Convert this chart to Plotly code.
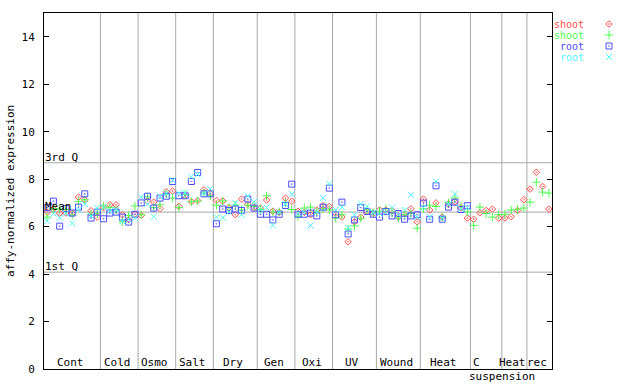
import plotly.graph_objects as go

groups = ["Cont", "Cold", "Osmo", "Salt", "Dry", "Gen", "Oxi", "UV", "Wound", "Heat", "C", "Heat", "rec"]
group_sizes = [9, 6, 6, 6, 7, 6, 6, 7, 7, 8, 5, 4, 4]

shoot_1 = [6.61, 6.75, 6.57, 6.57, 6.55, 7.24, 7.13, 6.67, 6.40,
           6.80, 6.92, 6.92, 6.50, 6.30, 6.52,
           6.47, 7.08, 7.03, 6.76, 7.47, 7.50,
           6.85, 7.30, 7.05, 7.10, 7.55, 7.40,
           7.10, 7.08, 6.80, 6.50, 7.16, 6.95, 6.80,
           6.78, 7.12, 6.65, 6.60, 7.20, 7.07,
           6.65, 6.60, 6.50, 6.70, 6.88, 6.85,
           6.55, 6.40, 5.36, 6.20, 6.40, 6.64, 6.55,
           6.70, 6.70, 6.68, 6.40, 6.55, 6.75, 6.20,
           7.16, 6.70, 7.00, 6.40, 6.95, 7.05, 6.80, 6.36,
           6.31, 6.58, 6.68, 6.74, 6.36,
           6.36, 6.42, 6.68, 7.13,
           7.58, 8.29, 7.69, 6.74]
shoot_2 = [6.40, 6.75, 6.75, 6.72, 6.48, 7.05, 7.13, 6.52, 6.55,
           6.87, 6.80, 6.70, 6.20, 6.47, 6.87,
           6.50, 7.25, 6.80, 6.92, 7.38, 7.20,
           6.80, 7.35, 7.05, 7.08, 7.42, 7.30,
           6.90, 7.08, 6.80, 6.90, 6.70, 6.90, 6.85,
           6.72, 7.30, 6.62, 6.62, 7.00, 6.72,
           6.43, 6.78, 6.82, 6.62, 6.75, 6.70,
           6.36, 6.50, 5.90, 6.03, 6.35, 6.70, 6.58,
           6.65, 6.75, 6.60, 6.36, 6.50, 6.55, 5.93,
           6.75, 6.90, 6.85, 6.40, 7.00, 7.20, 6.85, 6.62,
           6.05, 6.82, 6.55, 6.40, 6.50,
           6.52, 6.70, 6.73, 6.78,
           7.03, 7.87, 7.45, 7.41]
root_1 = [6.80, 7.07, 6.02, 6.76, 6.57, 6.82, 7.38, 6.36, 6.61,
          6.33, 6.57, 6.61, 6.40, 6.19, 6.52,
          7.00, 7.28, 6.78, 7.20, 7.28, 7.90,
          7.30, 7.30, 7.90, 8.28, 7.38, 7.38,
          6.12, 6.74, 6.68, 6.74, 6.68, 7.16, 6.78,
          6.52, 6.52, 6.28, 6.52, 6.89, 7.79,
          6.52, 6.52, 6.57, 6.45, 6.82, 7.62,
          6.50, 7.03, 5.69, 6.28, 6.80, 6.64, 6.52,
          6.40, 6.64, 6.45, 6.55, 6.31, 6.45, 6.50,
          6.99, 6.31, 7.72, 6.31, 6.82, 7.03, 6.72, 6.88]
root_2 = [6.24, 6.55, 6.38, 6.55, 6.14, 6.70, 6.95, 6.45, 6.78,
          6.82, 6.65, 6.72, 6.22, 6.30, 6.35,
          7.25, 6.95, 6.42, 7.28, 7.40, 7.95,
          7.40, 7.42, 8.10, 8.20, 7.40, 7.58,
          6.40, 6.37, 6.62, 7.00, 6.50, 7.30, 7.05,
          6.72, 6.80, 6.05, 6.60, 6.95, 7.37,
          6.55, 6.60, 6.05, 6.62, 7.20, 7.80,
          6.70, 6.82, 5.94, 6.50, 6.95, 6.85, 6.60,
          6.55, 6.60, 6.80, 6.50, 6.70, 7.34, 6.40,
          6.80, 6.40, 7.90, 6.35, 6.95, 7.38, 6.75, 6.80]

q3_value = 8.69
mean_value = 6.61
q1_value = 4.08

y_ticks = [0, 2, 4, 6, 8, 10, 12, 14]

FONT = "DejaVu Sans Mono"
RED = "#ff4d4d"
GREEN = "#4dff4d"
BLUE = "#4d4dff"
CYAN = "#4dffff"

n_total = sum(group_sizes)
xs_shoot = [i + 0.5 for i in range(len(shoot_1))]
xs_root = [i + 0.5 for i in range(len(root_1))]

fig = go.Figure()
series = [
    ("shoot", xs_shoot, shoot_1, RED, "diamond-open-dot", 5),
    ("shoot", xs_shoot, shoot_2, GREEN, "cross-thin-open", 6),
    ("root", xs_root, root_1, BLUE, "square-open-dot", 6),
    ("root", xs_root, root_2, CYAN, "x-thin-open", 6),
]
for name, xs, ys, col, sym, sz in series:
    fig.add_trace(go.Scatter(x=xs, y=ys, mode="markers", name=name, showlegend=False,
                             marker=dict(symbol=sym, size=sz, color=col,
                                         line=dict(color=col, width=1))))

shapes = []
annotations = []
start = 0
bounds = []
for g, n in zip(groups, group_sizes):
    bounds.append((start, start + n))
    start += n
for i, (a, b) in enumerate(bounds):
    if i < len(bounds) - 1:
        shapes.append(dict(type="line", xref="x", yref="paper", x0=b, x1=b, y0=0, y1=1,
                           line=dict(color="#a8a8a8", width=1), layer="below"))
for i, (g, (a, b)) in enumerate(zip(groups, bounds)):
    cx = (a + b) / 2
    xshift = -2
    if g == "C":
        cx = a + 1.0
        xshift = 0
    annotations.append(dict(x=cx, y=0, xref="x", yref="y", text=g, showarrow=False,
                            xanchor="center", yanchor="bottom", yshift=-2, xshift=xshift,
                            font=dict(family=FONT, size=11, color="black")))
    if g == "C":
        annotations.append(dict(x=b, y=0, xref="x", yref="paper", text="suspension",
                                showarrow=False, xanchor="center", yanchor="top", yshift=1,
                                font=dict(family=FONT, size=11, color="black")))

for val, lab in [(q3_value, "3rd Q"), (mean_value, "Mean"), (q1_value, "1st Q")]:
    shapes.append(dict(type="line", xref="x", yref="y", x0=0, x1=n_total, y0=val, y1=val,
                       line=dict(color="#a8a8a8", width=1), layer="below"))
    annotations.append(dict(x=0, y=val, xref="x", yref="y", text=lab, showarrow=False,
                            xanchor="left", yanchor="bottom", yshift=-3, xshift=-1,
                            font=dict(family=FONT, size=11, color="black")))

annotations.append(dict(x=-34 / 596, y=0.5, xref="paper", yref="paper",
                        text="affy-normalized expression", textangle=-90, showarrow=False,
                        xanchor="center", yanchor="middle",
                        font=dict(family=FONT, size=11, color="black")))

legend_rows = [("shoot", RED, "diamond-open-dot", 5), ("shoot", GREEN, "cross-thin-open", 6),
               ("root", BLUE, "square-open-dot", 6), ("root", CYAN, "x-thin-open", 6)]
for j, (name, col, sym, sz) in enumerate(legend_rows):
    yrow = 24 + 11 * j
    fig.add_trace(go.Scatter(x=[57], y=[yrow], xaxis="x2", yaxis="y2", mode="markers",
                             showlegend=False, hoverinfo="skip",
                             marker=dict(symbol=sym, size=sz, color=col, line=dict(color=col, width=1))))
    annotations.append(dict(x=33, y=yrow, xref="x2", yref="y2", text=name, showarrow=False,
                            xanchor="right", yanchor="middle", borderpad=0,
                            font=dict(family=FONT, size=10, color=col)))

main_frac = 508 / 596
fig.update_layout(
    width=640, height=384,
    margin=dict(l=44, r=0, t=13, b=15),
    paper_bgcolor="white", plot_bgcolor="white",
    showlegend=False,
    font=dict(family=FONT, size=11, color="black"),
    xaxis=dict(domain=[0, main_frac], range=[0, n_total], showgrid=False, zeroline=False,
               showticklabels=False, ticks="", showline=True, linecolor="black", linewidth=1,
               mirror=True, fixedrange=True),
    yaxis=dict(range=[0, 15], tickvals=y_ticks, ticktext=[str(v) for v in y_ticks],
               showgrid=False, zeroline=False, ticks="inside", ticklen=5, tickcolor="black",
               showline=True, linecolor="black", linewidth=1, mirror="ticks",
               ticklabelstandoff=6,
               tickfont=dict(family=FONT, size=11, color="black"), fixedrange=True),
    xaxis2=dict(domain=[main_frac, 1], range=[0, 88], visible=False, fixedrange=True),
    yaxis2=dict(domain=[0, 1], range=[369, 13], visible=False, anchor="x2", fixedrange=True),
    shapes=shapes,
    annotations=annotations,
)

fig.write_html("out.html", config={"displayModeBar": False},
               post_script="document.body.style.margin='0';document.body.style.overflow='hidden';")
